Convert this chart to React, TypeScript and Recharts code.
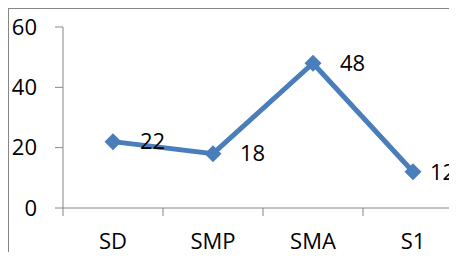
import { LineChart, Line, XAxis, YAxis, LabelList } from 'recharts'

const categories = ['SD', 'SMP', 'SMA', 'S1']
const values = [22, 18, 48, 12]
const yTicks = [0, 20, 40, 60]

const data = categories.map((name, i) => ({ name, value: values[i] }))

const BLUE = '#4A7EBB'
const AXIS = '#868686'
const FONT = '"Open Sans", sans-serif'

// chart is wider than the frame: the last band runs past the right edge
const CHART_W = 480
const CHART_H = 251
const MARGIN = { top: 18, right: 26, left: 0, bottom: 12 }
const Y_W = 54
const HALF_BAND = (CHART_W - MARGIN.left - MARGIN.right - Y_W) / categories.length / 2
// labels pushed back inside the visible frame, like Excel does
const LABEL_MAX_X = 421

function Diamond(props: any) {
  const { cx, cy } = props
  if (cx == null || cy == null) return null
  const r = 8.5
  return <polygon points={`${cx},${cy - r} ${cx + r},${cy} ${cx},${cy + r} ${cx - r},${cy}`} fill={BLUE} />
}

function CatTick(props: any) {
  const { x, y, payload } = props
  const bx = x - HALF_BAND
  return (
    <g>
      <line x1={bx} y1={y - 8} x2={bx} y2={y} stroke={AXIS} strokeWidth={1} />
      <text x={x} y={y + 33} textAnchor="middle" fill="#000" fontSize={22} fontFamily={FONT}>
        {payload.value}
      </text>
    </g>
  )
}

function ValueLabel(props: any) {
  const { x, y, value } = props
  const lx = Math.min(x + 27, LABEL_MAX_X)
  return (
    <text x={lx} y={y} dy="0.35em" textAnchor="start" fill="#000" fontSize={22} fontFamily={FONT}>
      {value}
    </text>
  )
}

export default function App() {
  return (
    <div
      style={{
        width: 448,
        height: 251,
        marginBottom: -8,
        borderTop: `1px solid ${AXIS}`,
        borderLeft: `1px solid ${AXIS}`,
        overflow: 'hidden',
      }}
    >
      <LineChart width={CHART_W} height={CHART_H} data={data} margin={MARGIN}>
        <XAxis
          dataKey="name"
          scale="band"
          height={CHART_H - MARGIN.top - MARGIN.bottom - 181}
          stroke={AXIS}
          tickLine={false}
          tick={<CatTick />}
          interval={0}
        />
        <YAxis
          width={Y_W}
          domain={[0, 60]}
          ticks={yTicks}
          stroke={AXIS}
          tickSize={8}
          tickMargin={18}
          tick={{ fill: '#000', fontSize: 22, fontFamily: FONT }}
        />
        <Line
          type="linear"
          dataKey="value"
          stroke={BLUE}
          strokeWidth={5}
          dot={<Diamond />}
          activeDot={false}
          isAnimationActive={false}
        >
          <LabelList dataKey="value" content={<ValueLabel />} />
        </Line>
      </LineChart>
    </div>
  )
}
